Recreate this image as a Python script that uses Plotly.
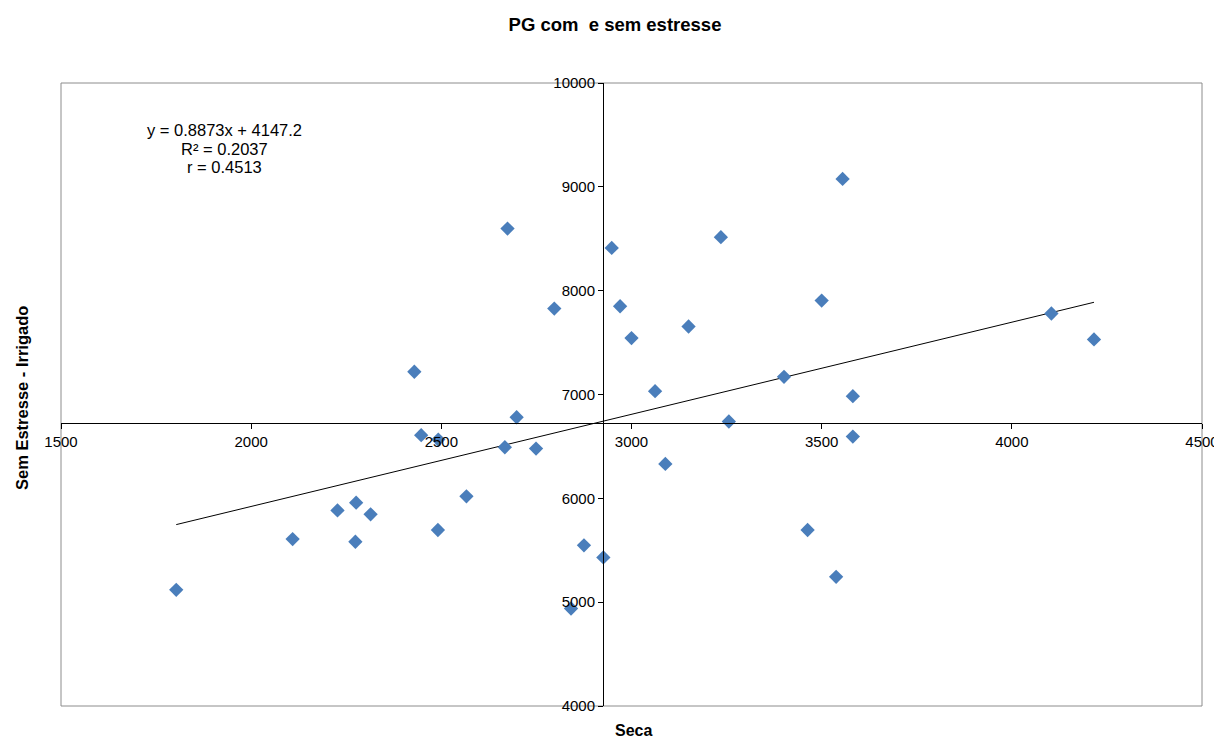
import plotly.graph_objects as go

# Data
seca = [1803, 2109, 2227, 2274, 2276, 2314, 2429, 2447, 2491, 2492, 2566, 2667,
        2674, 2698, 2749, 2797, 2841, 2875, 2926, 2948, 2970, 3000, 3062, 3089,
        3150, 3235, 3256, 3401, 3463, 3500, 3538, 3555, 3582, 3582, 4104, 4216]
irrigado = [5119, 5608, 5884, 5582, 5958, 5846, 7219, 6608, 5695, 6566, 6019, 6492,
            8598, 6781, 6479, 7828, 4939, 5547, 5431, 8412, 7850, 7543, 7032, 6331,
            7655, 8515, 6740, 7170, 5695, 7905, 5244, 9076, 6984, 6595, 7780, 7530]

slope = 0.8873
intercept = 4147.2
r2 = 0.2037
r = 0.4513

x_range = [1500, 4500]
y_range = [4000, 10000]
x_ticks = [1500, 2000, 2500, 3000, 3500, 4000, 4500]
y_ticks = [4000, 5000, 6000, 7000, 8000, 9000, 10000]

title_text = "PG com  e sem estresse"
x_title = "Seca"
y_title = "Sem Estresse - Irrigado"
eq_lines = [f"y = {slope}x + {intercept}", f"R² = {r2}", f"r = {r}"]

# axes cross at the means of the data
mean_x = sum(seca) / len(seca)
mean_y = sum(irrigado) / len(irrigado)
xpos = (mean_y - y_range[0]) / (y_range[1] - y_range[0])
ypos = (mean_x - x_range[0]) / (x_range[1] - x_range[0])

trend_x = [min(seca), max(seca)]
trend_y = [slope * v + intercept for v in trend_x]

FONT = "Liberation Sans, Arial, sans-serif"

# page has an 8px body margin
W, H = 1214, 730
OFF = 8
L, T, R = 61 - OFF, 83 - OFF, 20
B = H - T - (706 - 83)
PW = 1202 - 61   # plot width in px
PH = 706 - 83    # plot height in px

def px_x(px):  # window pixel -> paper x
    return (px - 61) / PW

def px_y(py):  # window pixel -> paper y
    return 1 - (py - 83) / PH

eq_y = [130, 148.5, 167]

annotations = [
    dict(text="<b>" + x_title + "</b>", xref="paper", yref="paper",
         x=px_x(633), y=px_y(730), xanchor="center", yanchor="middle",
         showarrow=False, font=dict(family=FONT, size=16, color="#000000")),
    dict(text="<b>" + y_title + "</b>", xref="paper", yref="paper",
         x=px_x(22), y=px_y(398), xanchor="center", yanchor="middle",
         textangle=-90, showarrow=False,
         font=dict(family=FONT, size=16.5, color="#000000")),
]
for line, yy in zip(eq_lines, eq_y):
    annotations.append(dict(text=line, xref="paper", yref="paper",
                            x=px_x(224), y=px_y(yy),
                            xanchor="center", yanchor="middle",
                            showarrow=False,
                            font=dict(family=FONT, size=16.5, color="#000000")))

fig = go.Figure()
fig.add_trace(go.Scatter(
    x=trend_x, y=trend_y, mode="lines",
    line=dict(color="#000000", width=1), hoverinfo="skip", showlegend=False))
fig.add_trace(go.Scatter(
    x=seca, y=irrigado, mode="markers",
    marker=dict(symbol="diamond", size=11, color="#4A7EBB",
                line=dict(width=0)),
    showlegend=False))

fig.update_layout(
    width=W, height=H,
    margin=dict(l=L, r=R, t=T, b=B),
    paper_bgcolor="white", plot_bgcolor="white",
    font=dict(family=FONT, size=15, color="#000000"),
    title=dict(text="<b>" + title_text + "</b>", x=(615 - OFF) / W, xanchor="center",
               y=1 - (25 - OFF) / H, yanchor="middle",
               font=dict(family=FONT, size=18.5, color="#000000")),
    xaxis=dict(range=x_range, tickvals=x_ticks, tickformat="d",
               showgrid=False, zeroline=False,
               showline=True, linecolor="#000000", linewidth=1,
               ticks="outside", ticklen=5, tickcolor="#000000",
               anchor="free", position=xpos, automargin=False,
               ticklabeloverflow="allow",
               tickfont=dict(size=15, color="#000000")),
    yaxis=dict(range=y_range, tickvals=y_ticks, tickformat="d",
               showgrid=False, zeroline=False,
               showline=True, linecolor="#000000", linewidth=1,
               ticks="outside", ticklen=5, tickcolor="#000000",
               anchor="free", position=ypos, automargin=False,
               tickfont=dict(size=15, color="#000000")),
    shapes=[dict(type="rect", xref="paper", yref="paper", x0=0, y0=0, x1=1, y1=1,
                 line=dict(color="#8C8C8C", width=1), layer="below")],
    annotations=annotations,
)

fig.write_html("out.html")
